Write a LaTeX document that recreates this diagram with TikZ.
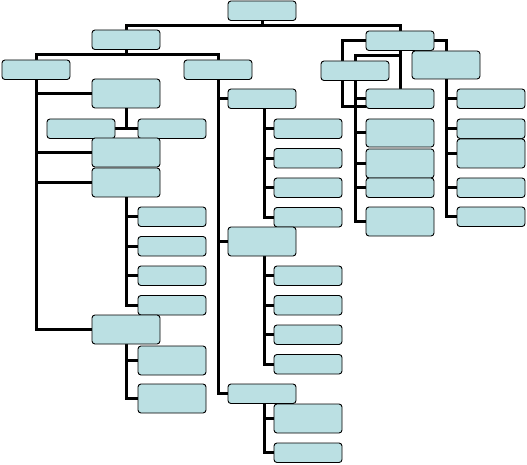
\documentclass[tikz,border=0pt]{standalone}
\usetikzlibrary{positioning, backgrounds, calc}
\definecolor{boxfill}{RGB}{187,224,227}

\begin{document}
\begin{tikzpicture}[
    x=1pt, y=-1pt,
    box/.style={
        rectangle,
        rounded corners=3pt,
        draw=black,
        line width=0.9pt,
        fill=boxfill,
        minimum width=68pt,
        minimum height=19.5pt,
        inner sep=0pt,
        outer sep=0pt,
        anchor=north west
    },
    tallbox/.style={
        box,
        minimum height=29pt
    },
    link/.style={
        line width=3pt,
        draw=black
    }
]
    \useasboundingbox (0,0) rectangle (527,465);

    % -- Top levels --
    \node[box] (top) at (228,1) {};
    \node[box] (A) at (92,30) {};
    \node[box] (B) at (366,31) {};

    % -- Left half --
    \node[box] (C) at (2,60) {};
    \node[box] (D) at (184,60) {};

    \node[tallbox] (E) at (92,79) {};
    \node[box] (F) at (47,119) {};
    \node[box] (G) at (138,119) {};
    \node[tallbox] (H) at (92,138) {};
    \node[tallbox] (I) at (92,168) {};

    \node[box] (J1) at (138,207) {};
    \node[box, below=10pt of J1] (J2) {};
    \node[box, below=10pt of J2] (J3) {};
    \node[box, below=10pt of J3] (J4) {};

    \node[tallbox] (K) at (92,315) {};
    \node[tallbox] (L1) at (138,346) {};
    \node[tallbox] (L2) at (138,384) {};

    % -- Middle column --
    \node[box] (M1) at (228,89) {};
    \node[box] (N1) at (274,119) {};
    \node[box, below=10pt of N1] (N2) {};
    \node[box, below=10pt of N2] (N3) {};
    \node[box, below=10pt of N3] (N4) {};

    \node[tallbox] (M2) at (228,227) {};
    \node[box] (O1) at (274,266) {};
    \node[box, below=10pt of O1] (O2) {};
    \node[box, below=10pt of O2] (O3) {};
    \node[box, below=10pt of O3] (O4) {};

    \node[box] (M3) at (228,384) {};
    \node[tallbox] (P1) at (274,404) {};
    \node[box] (P2) at (274,443) {};

    % -- Right half --
    \node[box] (S) at (321,61) {};
    \node[tallbox, minimum height=28pt] (R) at (412,51) {};

    \node[box] (Q1) at (366,89) {};
    \node[tallbox, minimum height=28pt] (Q2) at (366,119) {};
    \node[tallbox] (Q3) at (366,149) {};
    \node[box] (Q4) at (366,178) {};
    \node[tallbox] (Q5) at (366,207) {};

    \node[box] (T1) at (457,89) {};
    \node[box] (T2) at (457,119) {};
    \node[tallbox] (T3) at (457,139) {};
    \node[box] (T4) at (457,178) {};
    \node[box] (T5) at (457,207) {};

    % Connectors behind the boxes
    \begin{scope}[on background layer]
        \coordinate (bus0) at ($(top.south)+(0,5)$);
        \draw[link] (top.south) -- (bus0);
        \draw[link] (A.north) |- (bus0) -| (B.north);

        \coordinate (bus1) at ($(A.south)+(0,5)$);
        \draw[link] (A.south) -- (bus1);
        \draw[link] (C.north) |- (bus1) -| (D.north);

        \foreach \n in {E, H, I, K}
            \draw[link] (C.south) |- (\n.west);

        \draw[link] (E.south) -- (E.south |- F.east);
        \draw[link] (F.east) -- (G.west);

        \foreach \n in {J1, J2, J3, J4}
            \draw[link] (I.south) |- (\n.west);
        \foreach \n in {L1, L2}
            \draw[link] (K.south) |- (\n.west);

        \foreach \n in {M1, M2, M3}
            \draw[link] (D.south) |- (\n.west);
        \foreach \n in {N1, N2, N3, N4}
            \draw[link] ([xshift=2pt]M1.south) |- (\n.west);
        \foreach \n in {O1, O2, O3, O4}
            \draw[link] ([xshift=2pt]M2.south) |- (\n.west);
        \foreach \n in {P1, P2}
            \draw[link] ([xshift=2pt]M3.south) |- (\n.west);

        % right group
        \coordinate (bus2) at ($(B.south)+(0,5)$);
        \draw[link] (B.south) -- (Q1.north);
        \draw[link] (S.north) |- (bus2);
        \coordinate (hook) at ($(Q1.south west)+(-24,-2)$);
        \draw[link] (B.west) -| (hook) -- (hook -| Q1.west);
        \draw[link] (B.east) -| (R.north);

        \foreach \n in {Q1, Q2, Q3, Q4, Q5}
            \draw[link] (S.south) |- (\n.west);
        \foreach \n in {T1, T2, T3, T4, T5}
            \draw[link] (R.south) |- (\n.west);
    \end{scope}

\end{tikzpicture}
\end{document}
